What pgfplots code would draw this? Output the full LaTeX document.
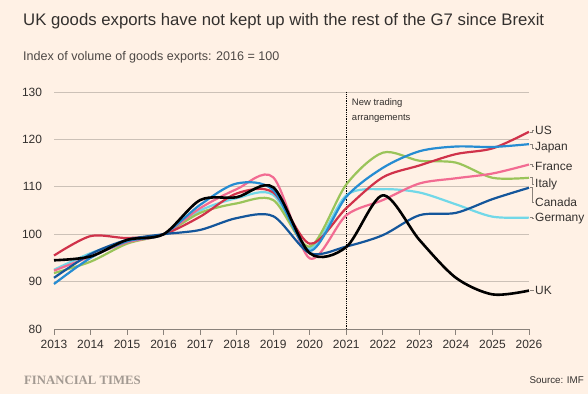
\documentclass[border=0pt]{standalone}
\usepackage{fontspec}
\setmainfont{Liberation Sans}
\newfontfamily\ftserif{Liberation Serif}
\usepackage{pgfplots}
\pgfplotsset{compat=1.18}
\definecolor{ftbg}{HTML}{FFF1E5}
\definecolor{fttext}{HTML}{33302E}
\definecolor{ftsub}{HTML}{4D4845}
\definecolor{gridc}{HTML}{CCC1B7}
\definecolor{axisc}{HTML}{8A827B}
\definecolor{ftlogo}{HTML}{A39A92}
\definecolor{cUK}{HTML}{000000}
\definecolor{cUS}{HTML}{D0324A}
\definecolor{cJapan}{HTML}{268CD2}
\definecolor{cFrance}{HTML}{F26B92}
\definecolor{cItaly}{HTML}{9AC45A}
\definecolor{cCanada}{HTML}{14569B}
\definecolor{cGermany}{HTML}{72D8E8}

\pgfplotstableread{
year UK Canada Japan US France Italy Germany
2013 94.5 90.8 89.5 95.5 92.3 91.8 92.5
2014 95.3 95.8 95.0 99.6 95.3 94.2 96.0
2015 98.8 98.8 98.5 99.2 98.3 98.0 98.5
2016 100.0 100.0 100.0 100.0 100.0 100.0 100.0
2017 107.2 100.9 106.2 103.7 105.5 104.5 105.0
2018 107.8 103.4 110.7 108.6 109.5 106.5 107.6
2019 109.9 103.8 109.3 108.8 112.0 107.2 108.3
2020 96.0 96.0 96.5 98.0 94.9 97.4 97.0
2021 97.3 97.4 107.9 105.5 104.0 110.5 108.2
2022 108.2 99.8 114.0 112.0 107.2 117.2 109.5
2023 98.8 104.0 117.5 114.5 110.7 115.5 108.8
2024 90.8 104.5 118.5 116.9 111.8 115.1 106.3
2025 87.3 107.4 118.4 118.1 112.8 111.9 103.7
2026 88.1 109.8 119.0 121.6 114.7 111.9 103.5
}\gdpdata

\newcommand{\serieslabel}[3]{%
  \draw[axisc, line width=0.6bp] ([xshift=1bp]axis cs:2026,#1) -- ([xshift=3bp]axis cs:2026,#1) |- ([xshift=5bp]axis cs:2026,#2);
  \node[anchor=west, inner sep=0, text=fttext, font=\fontsize{12}{14}\selectfont] at ([xshift=6bp]axis cs:2026,#2) {#3};
}

\begin{document}
\begin{tikzpicture}[x=1bp,y=1bp]
\fill[ftbg] (0,0) rectangle (588,394);
\path[use as bounding box] (0,0) rectangle (588,394);
\node[anchor=base west, inner sep=0, text=fttext, font=\fontsize{16.8}{18}\selectfont] at (23,368.5) {UK goods exports have not kept up with the rest of the G7 since Brexit};
\node[anchor=base west, inner sep=0, text=ftsub, font=\fontsize{12.6}{14}\selectfont] at (23,334) {Index of volume of goods exports: 2016 = 100};
\node[anchor=base west, inner sep=0, text=ftlogo, font=\ftserif\bfseries\fontsize{12.8}{14}\selectfont] at (24,10) {FINANCIAL TIMES};
\node[anchor=base east, inner sep=0, text=fttext, font=\fontsize{9.8}{11}\selectfont] at (584,11) {Source: IMF};
\begin{axis}[
  at={(54bp,65bp)}, anchor=south west, scale only axis,
  width=475bp, height=237bp,
  xmin=2013, xmax=2026, ymin=80, ymax=130,
  xtick={2013,2014,...,2026}, ytick={80,90,...,130},
  axis x line=bottom, axis y line=left,
  axis line style={-},
  x axis line style={draw=axisc, line width=0.8bp},
  y axis line style={draw=none},
  ymajorgrids, grid style={draw=gridc, line width=0.8bp},
  xtick style={draw=axisc, line width=0.8bp},
  ytick style={draw=none},
  tick align=outside, major tick length=5.5bp,
  /pgf/number format/1000 sep={},
  /pgf/number format/assume math mode=true,
  xticklabel style={font=\fontsize{12}{14}\selectfont, text=fttext, yshift=-2.5bp},
  yticklabel style={font=\fontsize{12}{14}\selectfont, text=fttext, xshift=-3bp},
  clip=false,
  every axis plot/.append style={line width=2.2bp, smooth, tension=0.5, no markers},
]
\draw[black, line width=1bp, dash pattern=on 0.9bp off 0.9bp] (axis cs:2021,80) -- (axis cs:2021,130);
\addplot[cGermany] table[x=year,y=Germany] {\gdpdata};
\addplot[cItaly] table[x=year,y=Italy] {\gdpdata};
\addplot[cFrance] table[x=year,y=France] {\gdpdata};
\addplot[cUS] table[x=year,y=US] {\gdpdata};
\addplot[cJapan] table[x=year,y=Japan] {\gdpdata};
\addplot[cCanada] table[x=year,y=Canada] {\gdpdata};
\addplot[cUK, line width=2.6bp] table[x=year,y=UK] {\gdpdata};
\node[anchor=north west, align=left, inner sep=0, text=fttext, font=\fontsize{9.5}{15.5}\selectfont] at (axis cs:2021.15,128.7) {New trading\\arrangements};
\serieslabel{121.6}{122.0}{US}
\serieslabel{119.0}{118.2}{Japan}
\serieslabel{114.7}{114.4}{France}
\serieslabel{111.9}{110.6}{Italy}
\serieslabel{109.8}{106.8}{Canada}
\serieslabel{103.5}{103.3}{Germany}
\serieslabel{88.1}{88.1}{UK}
\end{axis}
\end{tikzpicture}
\end{document}
